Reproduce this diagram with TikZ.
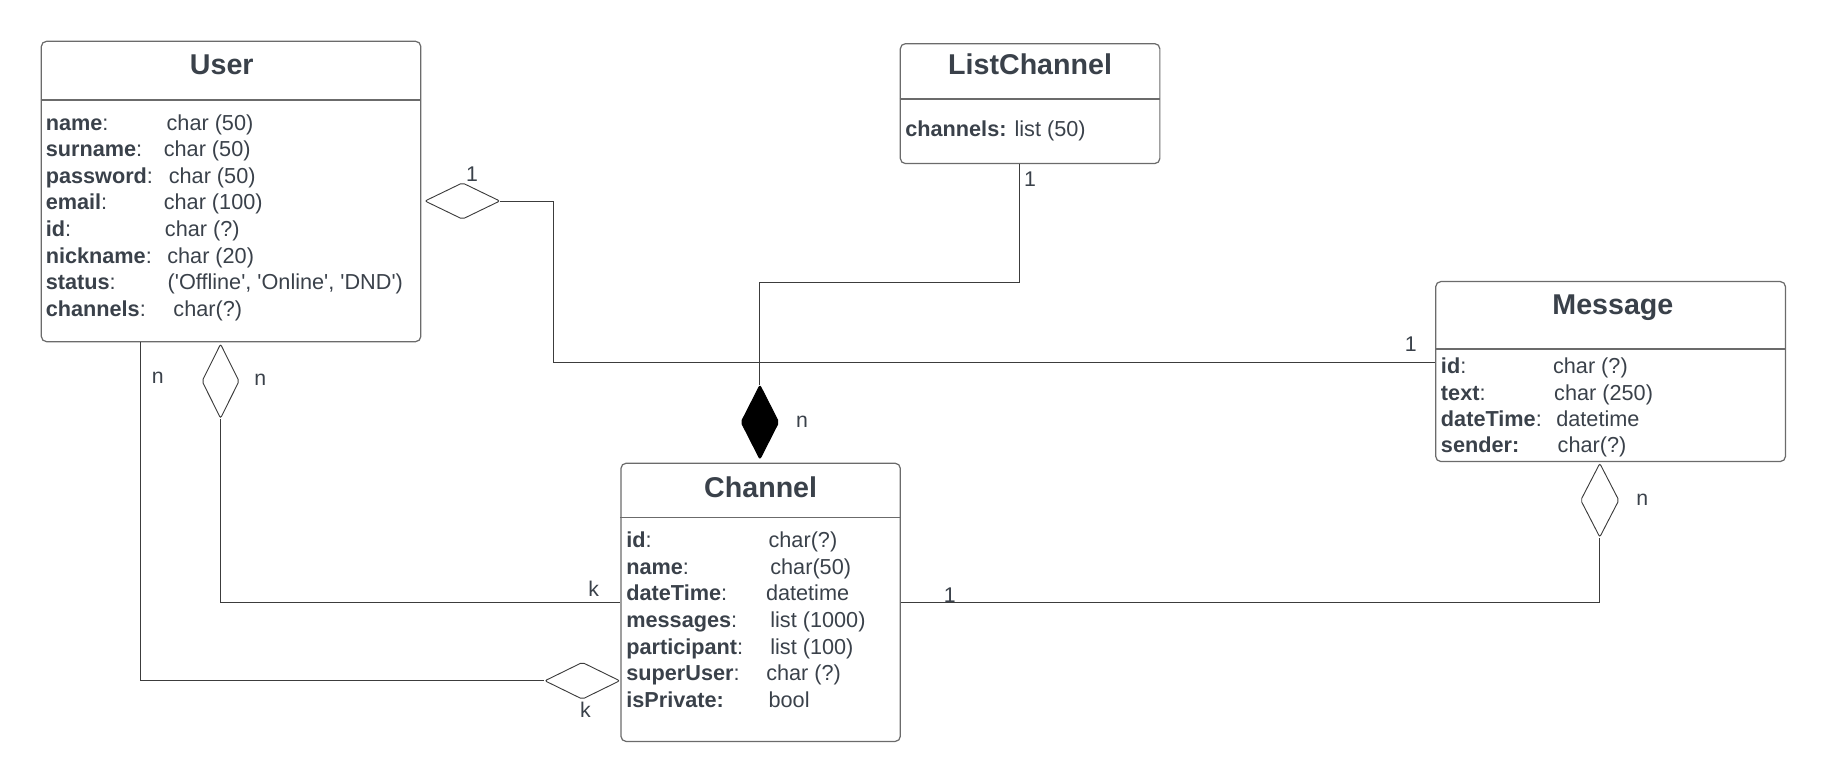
\documentclass[tikz,border=0pt]{standalone}
\usepackage{fontspec}
\setmainfont{Liberation Sans}
\usetikzlibrary{shapes.geometric,calc,positioning}
\definecolor{inkgray}{HTML}{3A414A}
\definecolor{rulegray}{HTML}{6B6B6B}
\definecolor{wiregray}{HTML}{3C3C3C}
\newcommand{\tq}{\textquotesingle}
\tikzset{
  classbox/.style 2 args={draw=rulegray,line width=0.6pt,rounded corners=2.5pt,anchor=north west,inner sep=0pt,minimum width=#1*0.02cm,minimum height=#2*0.02cm},
  divider/.style={draw=rulegray,line width=0.6pt},
  classname/.style={font=\fontsize{14}{16}\selectfont\bfseries,text=inkgray,anchor=base,inner sep=0pt},
  attr/.style={font=\fontsize{10.6}{12}\selectfont,text=inkgray,anchor=base west,inner sep=0pt},
  relbox/.style 2 args={diamond,draw=wiregray,line width=0.45pt,rounded corners=1pt,inner sep=0pt,minimum width=#1*0.02cm,minimum height=#2*0.02cm},
  link/.style={draw=wiregray,line width=0.45pt},
  mult/.style={font=\fontsize{10.4}{12}\selectfont,text=inkgray,inner sep=0pt}
}
\begin{document}
\begin{tikzpicture}[x=0.02cm,y=-0.02cm]
\useasboundingbox (0,0) rectangle (1568,672);
% classes
\node[classbox={326}{258}] (user) at (35,35) {};
\node[classbox={223}{103}] (listch) at (773,37) {};
\node[classbox={240}{239}] (channel) at (533,397.5) {};
\node[classbox={300.5}{154.6}] (message) at (1233,241.4) {};
\foreach \b/\h in {user/51,listch/48,channel/46.9,message/58.4}
  \draw[divider] ($(\b.north west)+(0,\h)$) -- ($(\b.north east)+(0,\h)$);
\node[classname] (userT) at ($(user.north)+(-8,28.6)$) {User};
\node[classname] (listchT) at ($(listch.north)+(0,27.4)$) {ListChannel};
\node[classname] (channelT) at ($(channel.north)+(0,29.8)$) {Channel};
\node[classname] (messageT) at ($(message.north)+(2,29.2)$) {Message};
% attributes
\foreach \k/\v/\vx [count=\i from 0] in {{\textbf{name}:}/{char (50)}/142.8,{\textbf{surname}:}/{char (50)}/140.4,{\textbf{password}:}/{char (50)}/144.7,{\textbf{email}:}/{char (100)}/140.4,{\textbf{id}:}/{char (?)}/141.4,{\textbf{nickname}:}/{char (20)}/143.4,{\textbf{status}:}/{(\tq Offline\tq, \tq Online\tq, \tq DND\tq)}/143.7,{\textbf{channels}:}/{char(?)}/148.7}{
  \node[attr] (userK\i) at (39,112+22.8*\i) {\k};
  \node[attr] (userV\i) at (\vx,112+22.8*\i) {\v};
}
\node[attr] (listchK0) at (777.5,117) {\textbf{channels:} list (50)};
\foreach \k/\v/\vx [count=\i from 0] in {{\textbf{id}:}/{char(?)}/660,{\textbf{name}:}/{char(50)}/661.5,{\textbf{dateTime}:}/{datetime}/657.8,{\textbf{messages}:}/{list (1000)}/661.5,{\textbf{participant}:}/{list (100)}/661.5,{\textbf{superUser}:}/{char (?)}/658,{\textbf{isPrivate:}}/{bool}/660}{
  \node[attr] (channelK\i) at (537.8,470.5+22.9*\i) {\k};
  \node[attr] (channelV\i) at (\vx,470.5+22.9*\i) {\v};
}
\foreach \k/\v/\vx [count=\i from 0] in {{\textbf{id}:}/{char (?)}/1334,{\textbf{text}:}/{char (250)}/1335,{\textbf{dateTime}:}/{datetime}/1336.8,{\textbf{sender:}}/{char(?)}/1338}{
  \node[attr] (messageK\i) at (1237.7,321+22.7*\i) {\k};
  \node[attr] (messageV\i) at (\vx,321+22.7*\i) {\v};
}
% relations
\node[relbox={64.6}{31.4}] (dUser) at (397.3,172.7) {};
\node[relbox={32}{64}] (dUserB) at (189.5,327.5) {};
\node[relbox={64.6}{31.8}] (dSuper) at (500.3,584.9) {};
\node[relbox={32.6}{63.8},fill=black,draw=black] (dList) at (652.9,362.7) {};
\node[relbox={33}{63.6}] (dMsg) at (1374.5,429.8) {};
\draw[link] (dUser.east) -- ++(45.2,0) |- ($(message.north west)+(0,69.6)$);
\draw[link] ($(listch.south west)+(103.3,0)$) -- ++(0,101.6) -| (dList.north);
\draw[link] (channel.east |- 0,517.5) -| (dMsg.south);
\draw[link] (dUserB.south) |- (channel.west |- 0,517.5);
\draw[link] ($(user.south west)+(85.3,0)$) |- (dSuper.west);
\node[mult] (m1) at (405.6,149.5) {1};
\node[mult] (m2) at (1212,296) {1};
\node[mult] (m3) at (885,154) {1};
\node[mult] (m4) at (689,362) {n};
\node[mult] (m5) at (816,511) {1};
\node[mult] (m6) at (1411,429.6) {n};
\node[mult] (m7) at (135.5,325) {n};
\node[mult] (m8) at (223.7,326.5) {n};
\node[mult] (m9) at (510,505.5) {k};
\node[mult] (m10) at (503,610) {k};
\end{tikzpicture}
\end{document}
